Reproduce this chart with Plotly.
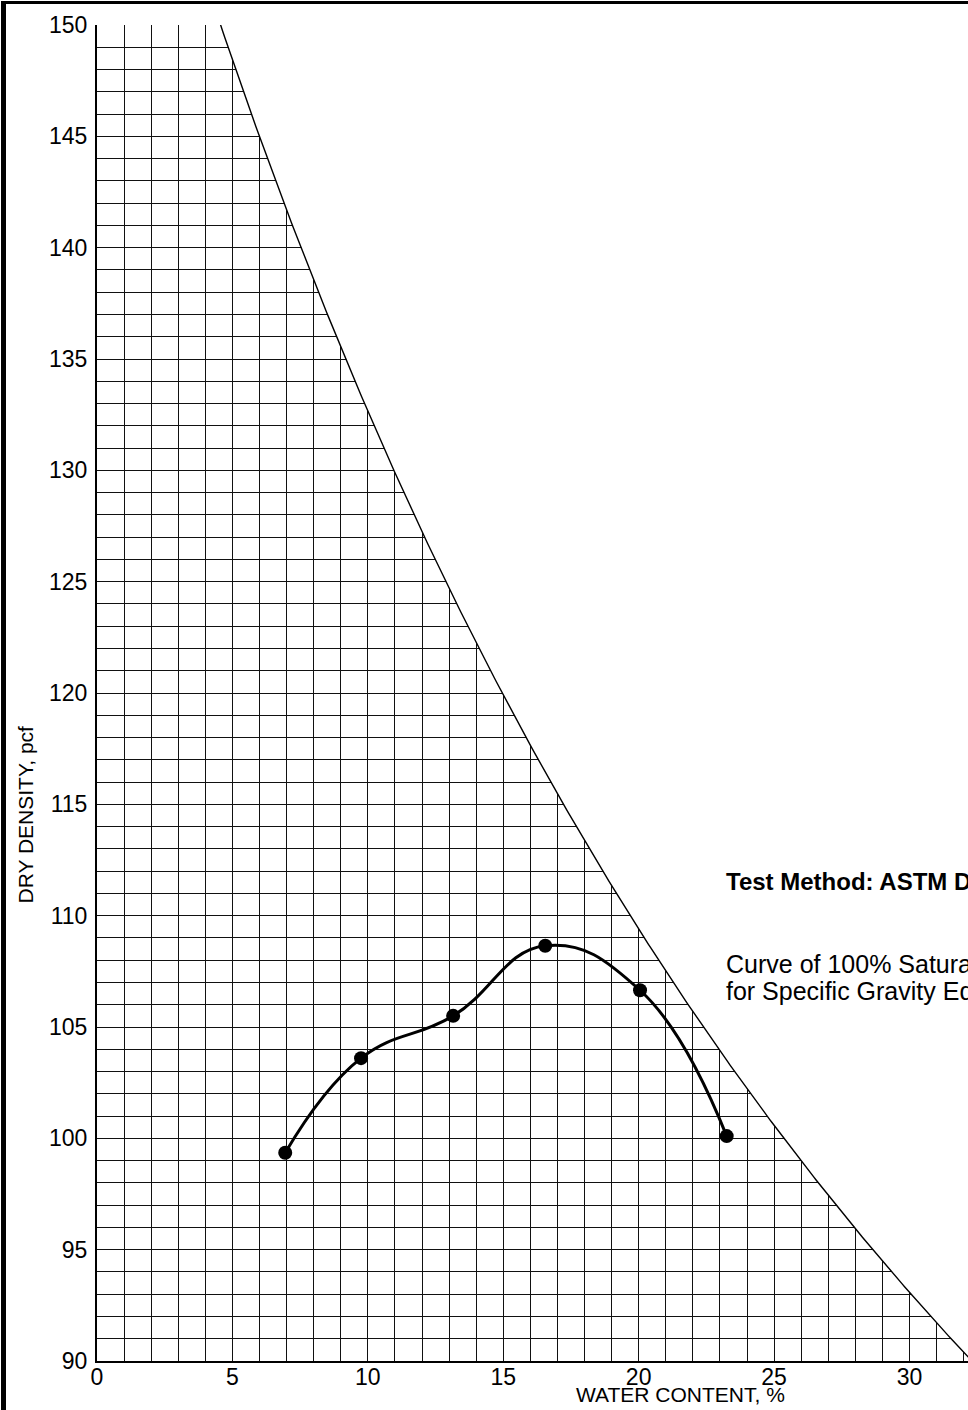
import numpy as np
import plotly.graph_objects as go

# ---------------- data ----------------
water_content = [6.95, 9.75, 13.15, 16.55, 20.05, 23.25]      # %
dry_density = [99.35, 103.6, 105.5, 108.65, 106.65, 100.1]   # pcf

GS = 2.70          # specific gravity used for the 100% saturation curve
GAMMA_W = 62.4     # unit weight of water, pcf

x_tick_vals = [0, 5, 10, 15, 20, 25, 30]
y_tick_vals = [90, 95, 100, 105, 110, 115, 120, 125, 130, 135, 140, 145, 150]

# ---------------- layout geometry ----------------
W, H = 968, 1410
L, R, T, B = 97, 0, 25, 49
PW, PH = W - L - R, H - T - B
X_RANGE = [0, 32.16]
Y_RANGE = [90, 150]


def px(xp):
    return (xp - L) / PW


def py(yp):
    return (H - B - yp) / PH


def zav(w_pct):
    w = np.asarray(w_pct) / 100.0
    return GS * GAMMA_W / (1.0 + w * GS)


w_curve = np.linspace(3.5, 36, 400)
rho_curve = zav(w_curve)

FONT = "Liberation Sans, Arial, sans-serif"
GRID = "#111111"

fig = go.Figure()

# white mask above the saturation curve (hides grid there)
fig.add_trace(go.Scatter(
    x=list(w_curve) + [w_curve[-1], w_curve[0]],
    y=list(rho_curve) + [160, 160],
    fill="toself", fillcolor="white", mode="lines",
    line=dict(width=0, color="white"), hoverinfo="skip", showlegend=False,
))

# 100% saturation curve
fig.add_trace(go.Scatter(
    x=w_curve, y=rho_curve, mode="lines",
    line=dict(color="black", width=1.4), hoverinfo="skip", showlegend=False,
))

# compaction curve
fig.add_trace(go.Scatter(
    x=water_content, y=dry_density, mode="lines+markers",
    line=dict(color="black", width=3, shape="spline", smoothing=1.25),
    marker=dict(color="black", size=14),
    showlegend=False,
))

axis_common = dict(
    showgrid=True, gridcolor=GRID, gridwidth=1,
    zeroline=False, showline=True, linecolor="black", linewidth=2,
    ticks="", tickfont=dict(family=FONT, size=23, color="black"),
    mirror=False,
)

fig.update_xaxes(
    range=X_RANGE, tickvals=x_tick_vals, ticktext=[str(v) for v in x_tick_vals],
    minor=dict(dtick=1, tick0=0, showgrid=True, gridcolor=GRID, gridwidth=1),
    ticklabelstandoff=-6,
    **axis_common,
)
fig.update_yaxes(
    range=Y_RANGE, tickvals=y_tick_vals, ticktext=[str(v) for v in y_tick_vals],
    minor=dict(dtick=1, tick0=90, showgrid=True, gridcolor=GRID, gridwidth=1),
    ticklabelstandoff=3,
    **axis_common,
)

annotations = [
    dict(text="<b>Test Method: ASTM D 698</b>", x=px(724), y=py(881),
         xanchor="left", yanchor="middle", font=dict(size=24)),
    dict(text="Curve of 100% Saturation", x=px(724), y=py(964),
         xanchor="left", yanchor="middle", font=dict(size=25)),
    dict(text="for Specific Gravity Equal to 2.70", x=px(724), y=py(990.5),
         xanchor="left", yanchor="middle", font=dict(size=25)),
    dict(text="WATER CONTENT, %", x=px(680), y=py(1394.5),
         xanchor="center", yanchor="middle", font=dict(size=21)),
    dict(text="DRY DENSITY, pcf", x=px(24.5), y=py(815), textangle=-90,
         xanchor="center", yanchor="middle", font=dict(size=21)),
]
for a in annotations:
    a.update(xref="paper", yref="paper", showarrow=False)
    a["font"].update(family=FONT, color="black")

shapes = [
    # outer frame: left and top edges
    dict(type="line", xref="paper", yref="paper",
         x0=px(3.5), x1=px(3.5), y0=py(1), y1=py(1412),
         line=dict(color="black", width=5)),
    dict(type="line", xref="paper", yref="paper",
         x0=px(1), x1=px(975), y0=py(2.5), y1=py(2.5),
         line=dict(color="black", width=3)),
]

fig.update_layout(
    width=W, height=H,
    margin=dict(l=L, r=R, t=T, b=B, pad=0),
    paper_bgcolor="white", plot_bgcolor="white",
    font=dict(family=FONT, color="black"),
    annotations=annotations, shapes=shapes,
    showlegend=False,
)

fig.write_html("out.html")
